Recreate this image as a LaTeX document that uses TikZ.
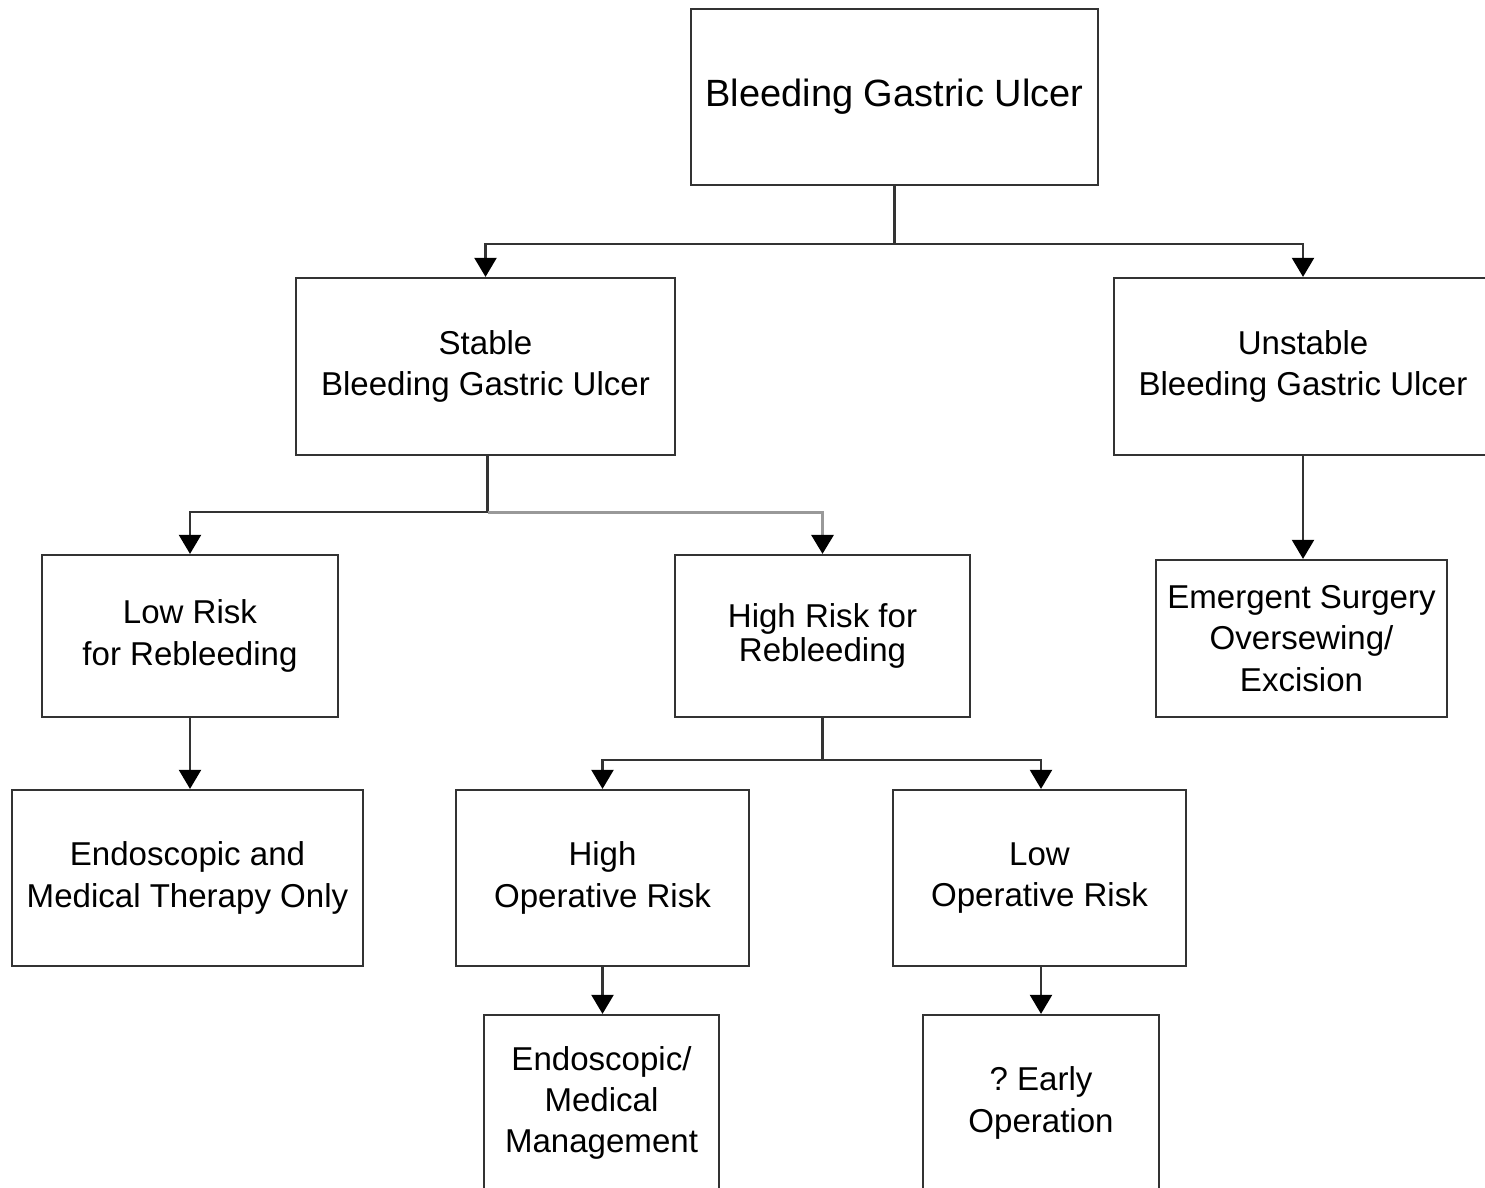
\documentclass[tikz,border=0pt]{standalone}
\usepackage{fontspec}
\setmainfont{Liberation Sans}
\usetikzlibrary{arrows.meta}

\begin{document}
\begin{tikzpicture}[x=0.01cm, y=-0.01cm]
\tikzstyle{box} = [draw=black!80, line width=0.6pt, align=center, inner sep=0pt,
  font=\fontsize{9.4}{11.7}\selectfont];
\tikzstyle{link} = [draw=black!80, line width=0.6pt, -{Triangle[length=1.9mm, width=2.2mm, color=black]}];
\tikzstyle{greylink} = [draw=black!40, line width=0.9pt, -{Triangle[length=1.9mm, width=2.2mm, color=black]}];

\clip (0, 0) rectangle (1485, 1188);

% level 0
\node[box, minimum width=4.07cm, minimum height=1.76cm, font=\fontsize{10.8}{13}\selectfont]
  (ulcer) at (894.5, 97) {Bleeding Gastric Ulcer};

% level 1
\node[box, minimum width=3.79cm, minimum height=1.77cm] (stable) at (485.5, 366.5)
  {Stable\\Bleeding Gastric Ulcer};
\node[box, minimum width=3.78cm, minimum height=1.77cm] (unstable) at (1303, 366.5)
  {Unstable\\Bleeding Gastric Ulcer};

% level 2
\node[box, minimum width=2.96cm, minimum height=1.62cm] (lowrisk) at (190, 636)
  {Low Risk\\for Rebleeding};
\node[box, minimum width=2.95cm, minimum height=1.62cm, font=\fontsize{9.4}{9.8}\selectfont]
  (highrisk) at (822.5, 636) {High Risk for\\Rebleeding};
\node[box, minimum width=2.91cm, minimum height=1.57cm] (emergent) at (1301.5, 638.5)
  {Emergent Surgery\\Oversewing/\\Excision};

% level 3
\node[box, minimum width=3.51cm, minimum height=1.76cm] (medonly) at (187.5, 878)
  {Endoscopic and\\Medical Therapy Only};
\node[box, minimum width=2.93cm, minimum height=1.76cm] (highop) at (602.5, 878)
  {High\\Operative Risk};
\node[box, minimum width=2.93cm, minimum height=1.76cm] (lowop) at (1039.5, 878)
  {Low\\Operative Risk};

% level 4
\node[box, minimum width=2.35cm, minimum height=1.76cm] (medmgmt) at (601.5, 1103)
  {Endoscopic/\\Medical\\Management};
\node[box, minimum width=2.36cm, minimum height=1.76cm] (earlyop) at (1041, 1103)
  {?\ Early\\Operation};

% connectors
\path (ulcer.south) ++(0, 58) coordinate (uj);
\draw[draw=black!80, line width=0.6pt] (ulcer.south) -- (uj);
\draw[link] (uj) -| (stable.north);
\draw[link] (uj) -| (unstable.north);

\path (stable.south) ++(2, 56) coordinate (sj);
\draw[draw=black!80, line width=0.6pt] (stable.south -| sj) -- (sj);
\draw[link] (sj) -| (lowrisk.north);
\draw[greylink] (sj) -| (highrisk.north);

\draw[link] (unstable.south) -- (unstable.south |- emergent.north);
\draw[link] (lowrisk.south) -- (lowrisk.south |- medonly.north);

\path (highrisk.south) ++(0, 42) coordinate (hj);
\draw[draw=black!80, line width=0.6pt] (highrisk.south) -- (hj);
\draw[link] (hj) -| (highop.north);
\draw[link] (hj) -| ([xshift=0.015cm]lowop.north);

\draw[link] (highop.south) -- (highop.south |- medmgmt.north);
\draw[link] ([xshift=0.015cm]lowop.south) -- ([xshift=0.015cm]lowop.south |- earlyop.north);
\end{tikzpicture}
\end{document}
